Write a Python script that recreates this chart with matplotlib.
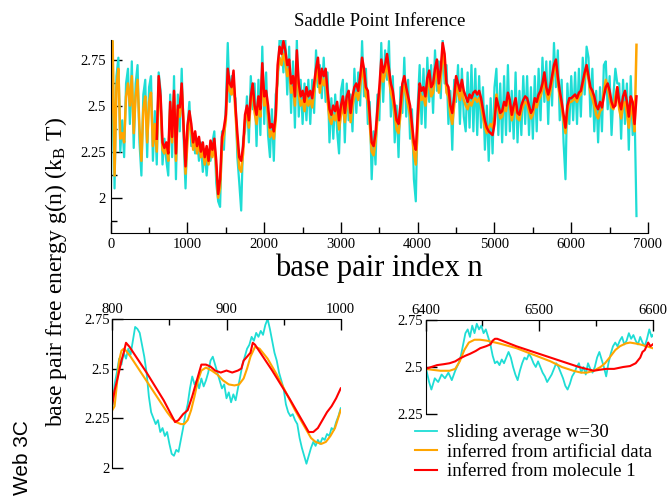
import matplotlib
matplotlib.use('Agg')
import matplotlib.pyplot as plt
import numpy as np
from matplotlib.ticker import MultipleLocator, FuncFormatter

plt.rcParams['font.family'] = ['Liberation Serif', 'DejaVu Serif']
plt.rcParams['mathtext.fontset'] = 'stix'

# ---------------- data: full sequence (sampled every 25 bp) ----------------
top_step = 25
cyan_start = 0
cyan_top = [
    1.93, 2.85, 2.05, 2.66, 2.76, 2.25, 2.42, 2.22, 2.62, 2.70, 2.40, 2.74, 2.27, 2.62, 2.72, 2.30, 2.12, 2.56, 2.64, 2.22, 2.60, 2.66, 2.20, 2.47,
    2.18, 2.68, 2.58, 2.18, 2.32, 2.20, 2.12, 2.56, 2.22, 2.66, 2.10, 2.56, 2.36, 2.70, 2.32, 2.05, 2.38,
    2.52, 2.28, 2.34, 2.24, 2.32, 2.20, 2.30, 2.14, 2.26, 2.12, 2.26, 2.20, 2.30, 2.36, 2.08, 1.98,
    1.95, 2.36, 2.26, 2.50, 2.84, 2.52, 2.66, 2.56, 2.54, 2.22, 2.08, 1.93, 2.32, 2.36, 2.55, 2.30,
    2.66, 2.48, 2.62, 2.28, 2.64, 2.34, 2.82, 2.40, 2.68, 2.34, 2.22, 2.48, 2.20, 2.56, 2.62, 2.86,
    2.86, 2.68, 2.86, 2.56, 2.82, 2.46, 2.74, 2.38, 2.86, 2.44, 2.64, 2.40, 2.62, 2.42, 2.64, 2.40,
    2.64, 2.46, 2.80, 2.60, 2.72, 2.54, 2.76, 2.52, 2.68, 2.30, 2.54, 2.32, 2.56, 2.36, 2.24, 2.58,
    2.64, 2.30, 2.62, 2.42, 2.56, 2.36, 2.70, 2.46, 2.68, 2.50, 2.85, 2.55, 2.70, 2.40, 2.52, 2.10,
    2.36, 2.18, 2.56, 2.42, 2.84, 2.52, 2.80, 2.64, 2.85, 2.44, 2.66, 2.30, 2.50, 2.22, 2.60, 2.46,
    2.76, 2.44, 2.64, 2.32, 2.48, 2.10, 1.98, 2.50, 2.72, 2.40, 2.70, 2.38, 2.76, 2.52, 2.72, 2.46,
    2.80, 2.58, 2.74, 2.54, 2.86, 2.62, 2.72, 2.40, 2.58, 2.26, 2.64, 2.52, 2.72, 2.40, 2.70, 2.44,
    2.36, 2.68, 2.38, 2.72, 2.36, 2.70, 2.34, 2.66, 2.38, 2.60, 2.26, 2.50, 2.20, 2.54, 2.24, 2.60,
    2.70, 2.34, 2.62, 2.30, 2.66, 2.34, 2.72, 2.36, 2.58, 2.32, 2.68, 2.30, 2.58, 2.34, 2.66, 2.40,
    2.66, 2.34, 2.60, 2.32, 2.66, 2.36, 2.70, 2.42, 2.76, 2.52, 2.74, 2.40, 2.74, 2.50, 2.84, 2.60,
    2.80, 2.42, 2.64, 2.30, 2.10, 2.62, 2.40, 2.66, 2.42, 2.68, 2.40, 2.70, 2.44, 2.76, 2.56, 2.82,
    2.76, 2.44, 2.70, 2.36, 2.58, 2.30, 2.60, 2.36, 2.72, 2.74, 2.48, 2.66, 2.34, 2.56, 2.70, 2.62,
    2.62, 2.32, 2.64, 2.40, 2.62, 2.26, 2.66, 2.34, 2.48, 1.90,
]
orange_start = 0
orange_top = [
    2.38, 2.85, 2.12, 2.60, 2.70, 2.32, 2.35, 2.30, 2.55, 2.62, 2.50, 2.66, 2.35, 2.55, 2.64, 2.38, 2.20, 2.48, 2.55, 2.30, 2.52, 2.57, 2.28, 2.40,
    2.25, 2.60, 2.50, 2.26, 2.24, 2.28, 2.20, 2.48, 2.30, 2.56, 2.20, 2.48, 2.44, 2.60, 2.40, 2.13, 2.30,
    2.44, 2.36, 2.26, 2.32, 2.24, 2.30, 2.22, 2.26, 2.18, 2.24, 2.18, 2.28, 2.22, 2.28, 2.16, 2.00,
    2.05, 2.28, 2.34, 2.42, 2.66, 2.58, 2.56, 2.64, 2.46, 2.30, 2.16, 2.14, 2.24, 2.42, 2.46, 2.38,
    2.52, 2.58, 2.46, 2.40, 2.50, 2.44, 2.68, 2.50, 2.54, 2.45, 2.33, 2.36, 2.32, 2.42, 2.68, 2.76,
    2.72, 2.78, 2.74, 2.66, 2.70, 2.57, 2.60, 2.50, 2.74, 2.56, 2.50, 2.53, 2.47, 2.55, 2.50, 2.53,
    2.49, 2.57, 2.65, 2.70, 2.57, 2.65, 2.61, 2.65, 2.53, 2.43, 2.40, 2.45, 2.42, 2.47, 2.37, 2.45,
    2.50, 2.41, 2.50, 2.53, 2.41, 2.50, 2.55, 2.57, 2.53, 2.61, 2.70, 2.65, 2.55, 2.53, 2.40, 2.25,
    2.23, 2.30, 2.43, 2.55, 2.70, 2.63, 2.67, 2.73, 2.65, 2.57, 2.53, 2.45, 2.37, 2.35, 2.45, 2.57,
    2.61, 2.55, 2.50, 2.45, 2.35, 2.24, 2.18, 2.38, 2.58, 2.53, 2.55, 2.50, 2.60, 2.64, 2.55, 2.57,
    2.65, 2.70, 2.57, 2.65, 2.78, 2.72, 2.57, 2.55, 2.45, 2.40, 2.50, 2.61, 2.57, 2.53, 2.59, 2.53,
    2.50, 2.48, 2.52, 2.50, 2.53, 2.54, 2.52, 2.54, 2.50, 2.44, 2.38, 2.35, 2.38, 2.40, 2.38, 2.44,
    2.56, 2.48, 2.43, 2.44, 2.49, 2.47, 2.54, 2.50, 2.42, 2.47, 2.51, 2.43, 2.42, 2.47, 2.50, 2.52,
    2.51, 2.47, 2.43, 2.45, 2.51, 2.49, 2.53, 2.55, 2.59, 2.65, 2.57, 2.53, 2.57, 2.63, 2.69, 2.72,
    2.63, 2.55, 2.49, 2.42, 2.35, 2.47, 2.52, 2.52, 2.53, 2.54, 2.52, 2.55, 2.56, 2.61, 2.66, 2.70,
    2.64, 2.57, 2.54, 2.50, 2.45, 2.43, 2.47, 2.48, 2.58, 2.64, 2.60, 2.54, 2.49, 2.48, 2.55, 2.60,
    2.48, 2.43, 2.50, 2.52, 2.46, 2.38, 2.50, 2.45, 2.36, 2.83,
]
red_start = 600
red_top = [
    2.32, 2.66, 2.55, 2.30, 2.27, 2.30, 2.24, 2.52, 2.33, 2.58, 2.24, 2.50, 2.49, 2.62, 2.38, 2.17, 2.39,
    2.47, 2.40, 2.30, 2.36, 2.28, 2.33, 2.25, 2.30, 2.22, 2.28, 2.20, 2.31, 2.26, 2.32, 2.20, 2.02,
    2.10, 2.33, 2.38, 2.45, 2.70, 2.62, 2.60, 2.69, 2.50, 2.35, 2.22, 2.20, 2.28, 2.45, 2.50, 2.42,
    2.55, 2.62, 2.50, 2.45, 2.55, 2.48, 2.73, 2.55, 2.58, 2.50, 2.38, 2.40, 2.36, 2.45, 2.72, 2.82,
    2.78, 2.85, 2.80, 2.72, 2.75, 2.62, 2.66, 2.55, 2.80, 2.62, 2.55, 2.58, 2.52, 2.60, 2.55, 2.58,
    2.54, 2.62, 2.70, 2.76, 2.62, 2.70, 2.66, 2.70, 2.58, 2.48, 2.45, 2.50, 2.47, 2.52, 2.42, 2.50,
    2.55, 2.46, 2.55, 2.58, 2.46, 2.55, 2.60, 2.62, 2.58, 2.66, 2.76, 2.70, 2.60, 2.58, 2.45, 2.30,
    2.28, 2.35, 2.48, 2.60, 2.75, 2.68, 2.72, 2.78, 2.70, 2.62, 2.58, 2.50, 2.42, 2.40, 2.50, 2.62,
    2.66, 2.60, 2.55, 2.50, 2.40, 2.30, 2.26, 2.45, 2.62, 2.58, 2.60, 2.55, 2.65, 2.69, 2.60, 2.62,
    2.70, 2.75, 2.62, 2.70, 2.84, 2.78, 2.62, 2.60, 2.50, 2.46, 2.55, 2.66, 2.62, 2.58, 2.64, 2.58,
    2.55, 2.52, 2.56, 2.54, 2.57, 2.58, 2.56, 2.58, 2.54, 2.48, 2.42, 2.38, 2.36, 2.35, 2.34, 2.40,
    2.54, 2.50, 2.46, 2.47, 2.52, 2.50, 2.57, 2.53, 2.45, 2.50, 2.54, 2.46, 2.45, 2.50, 2.53, 2.55,
    2.54, 2.50, 2.46, 2.48, 2.54, 2.52, 2.56, 2.58, 2.62, 2.68, 2.60, 2.56, 2.60, 2.66, 2.72, 2.75,
    2.66, 2.58, 2.52, 2.45, 2.38, 2.50, 2.54, 2.54, 2.55, 2.56, 2.54, 2.57, 2.58, 2.63, 2.68, 2.72,
    2.66, 2.60, 2.58, 2.55, 2.50, 2.48, 2.52, 2.49, 2.55, 2.60, 2.62, 2.58, 2.52, 2.49, 2.50, 2.60,
    2.52, 2.48, 2.55, 2.58, 2.52, 2.44, 2.55, 2.52, 2.40, 2.55,
]

# ---------------- data: detail window 800-1000 ----------------
bl_cyan_n = [800, 802, 804, 806, 808, 810, 812, 814, 816, 818, 820, 822, 824, 826, 828, 830, 832, 834, 836, 838,
             840, 842, 844, 846, 848, 850, 852, 854, 856, 858, 860, 862, 864, 866, 868, 870, 872, 874, 876, 878,
             880, 882, 884, 886, 888, 890, 892, 894, 896, 898, 900, 902, 904, 906, 908, 910, 912, 914, 916, 918,
             920, 922, 924, 926, 928, 930, 932, 934, 936, 938, 940, 942, 944, 946, 948, 950, 952, 954, 956, 958,
             960, 962, 964, 966, 968, 970, 972, 974, 976, 978, 980, 982, 984, 986, 988, 990, 992, 994, 996, 998, 1000]
bl_cyan_g = [2.30, 2.42, 2.48, 2.55, 2.52, 2.58, 2.55, 2.60, 2.57, 2.64, 2.71, 2.70, 2.68, 2.62, 2.56, 2.48, 2.36, 2.28, 2.25, 2.22,
             2.24, 2.18, 2.20, 2.16, 2.18, 2.12, 2.07, 2.06, 2.09, 2.08, 2.14, 2.20, 2.27, 2.32, 2.40, 2.46, 2.42, 2.44, 2.40, 2.45,
             2.41, 2.44, 2.48, 2.54, 2.56, 2.52, 2.48, 2.44, 2.40, 2.42, 2.35, 2.38, 2.33, 2.37, 2.34, 2.40, 2.46, 2.52, 2.56, 2.60,
             2.62, 2.66, 2.64, 2.68, 2.66, 2.69, 2.67, 2.72, 2.75, 2.70, 2.64, 2.58, 2.54, 2.48, 2.44, 2.40, 2.32, 2.28, 2.26, 2.27,
             2.24, 2.22, 2.15, 2.10, 2.06, 2.02, 2.06, 2.10, 2.13, 2.11, 2.14, 2.12, 2.15, 2.14, 2.17, 2.16, 2.20, 2.19, 2.23, 2.26, 2.30]
bl_orange_n = [800, 802, 804, 806, 808, 810, 812, 816, 824, 832, 840, 848, 852, 856, 860, 863, 866, 869, 872, 875, 878, 882,
               887, 892, 897, 902, 907, 911, 915, 918, 921, 925, 929, 936, 944, 952, 960, 968, 974, 978, 983, 987, 991, 995, 1000]
bl_orange_g = [2.29, 2.31, 2.42, 2.54, 2.59, 2.60, 2.59, 2.56, 2.49, 2.42, 2.35, 2.28, 2.25, 2.23, 2.22, 2.22, 2.24, 2.29, 2.36, 2.44, 2.49, 2.505,
               2.49, 2.47, 2.44, 2.42, 2.415, 2.42, 2.45, 2.50, 2.56, 2.61, 2.60, 2.55, 2.47, 2.38, 2.29, 2.21, 2.15, 2.13, 2.12, 2.13, 2.16, 2.20, 2.29]
bl_red_n = [800, 802, 805, 808, 810, 812, 815, 830, 845, 855, 858, 862, 866, 870, 874, 878, 882, 886, 890, 895, 900,
            905, 910, 913, 915, 918, 921, 923, 925, 940, 955, 972, 976, 980, 984, 988, 992, 996, 1000]
bl_red_g = [2.32, 2.39, 2.46, 2.54, 2.58, 2.63, 2.61, 2.48, 2.34, 2.23, 2.24, 2.27, 2.29, 2.36, 2.44, 2.52, 2.52, 2.51, 2.49, 2.48, 2.49,
            2.48, 2.49, 2.50, 2.54, 2.56, 2.58, 2.63, 2.62, 2.49, 2.35, 2.18, 2.18, 2.20, 2.24, 2.28, 2.31, 2.35, 2.40]

# ---------------- data: detail window 6400-6600 ----------------
br_cyan_n = [6400, 6403, 6405, 6408, 6411, 6414, 6417, 6420, 6423, 6426, 6429, 6431, 6433, 6435, 6437, 6439, 6441, 6443, 6445, 6447,
             6449, 6451, 6453, 6455, 6457, 6459, 6461, 6463, 6465, 6467, 6469, 6471, 6473, 6475, 6477, 6479, 6481, 6483, 6485, 6487,
             6489, 6491, 6493, 6495, 6497, 6499, 6501, 6503, 6505, 6507, 6509, 6511, 6513, 6515, 6517, 6519, 6521, 6523, 6525, 6527,
             6529, 6531, 6533, 6535, 6537, 6539, 6541, 6543, 6545, 6547, 6549, 6551, 6553, 6555, 6557, 6559, 6561, 6563, 6565, 6567,
             6569, 6571, 6573, 6575, 6577, 6579, 6581, 6583, 6585, 6587, 6589, 6591, 6593, 6595, 6597, 6599, 6600]
br_cyan_g = [2.50, 2.42, 2.38, 2.44, 2.42, 2.46, 2.44, 2.47, 2.43, 2.48, 2.52, 2.56, 2.62, 2.68, 2.70, 2.66, 2.72, 2.68, 2.73, 2.70,
             2.72, 2.68, 2.70, 2.66, 2.62, 2.56, 2.52, 2.53, 2.51, 2.54, 2.52, 2.55, 2.58, 2.55, 2.50, 2.46, 2.43, 2.48, 2.52, 2.55,
             2.54, 2.57, 2.55, 2.52, 2.50, 2.53, 2.50, 2.47, 2.45, 2.42, 2.44, 2.46, 2.49, 2.52, 2.50, 2.47, 2.44, 2.40, 2.38, 2.41,
             2.45, 2.47, 2.50, 2.52, 2.47, 2.50, 2.46, 2.52, 2.49, 2.47, 2.50, 2.55, 2.58, 2.54, 2.50, 2.45, 2.52, 2.57, 2.61, 2.63,
             2.61, 2.64, 2.66, 2.62, 2.64, 2.68, 2.65, 2.67, 2.64, 2.62, 2.66, 2.63, 2.61, 2.65, 2.70, 2.66, 2.67]
br_orange_n = [6400, 6406, 6413, 6421, 6426, 6430, 6434, 6438, 6443, 6448, 6454, 6465, 6480, 6495, 6510, 6520, 6530, 6537, 6542,
               6548, 6554, 6558, 6562, 6567, 6571, 6576, 6580, 6585, 6589, 6595, 6600]
br_orange_g = [2.49, 2.485, 2.48, 2.48, 2.49, 2.53, 2.59, 2.63, 2.645, 2.645, 2.64, 2.625, 2.60, 2.565, 2.53, 2.50, 2.48, 2.47, 2.47,
               2.48, 2.50, 2.52, 2.55, 2.59, 2.61, 2.625, 2.63, 2.625, 2.62, 2.61, 2.60]
br_red_n = [6400, 6405, 6410, 6416, 6421, 6426, 6430, 6435, 6439, 6444, 6448, 6453, 6457, 6459, 6461, 6463, 6480, 6500, 6520,
            6535, 6548, 6553, 6559, 6566, 6574, 6580, 6585, 6589, 6591, 6593, 6596, 6598, 6600]
br_red_g = [2.49, 2.50, 2.51, 2.515, 2.52, 2.53, 2.545, 2.56, 2.57, 2.585, 2.60, 2.61, 2.62, 2.64, 2.65, 2.65, 2.61, 2.57, 2.53,
            2.50, 2.48, 2.485, 2.49, 2.49, 2.50, 2.505, 2.52, 2.55, 2.58, 2.59, 2.63, 2.61, 2.62]

legend_labels = ['sliding average w=30', 'inferred from artificial data', 'inferred from molecule 1']
c_cyan, c_orange, c_red = '#1EDDD5', '#FFA500', '#FF0000'

# ---------------- figure ----------------
W, H = 669, 497
fig = plt.figure(figsize=(W / 100, H / 100), dpi=100)


def fx(px):
    return px / W


def fy(py):
    return 1 - py / H


fmt = FuncFormatter(lambda v, p: f'{v:g}')

# top panel
ax = fig.add_axes([fx(110.7), fy(233), fx(648) - fx(110.7), fy(40.2) - fy(233)])
n_c = cyan_start + top_step * np.arange(len(cyan_top))
n_o = orange_start + top_step * np.arange(len(orange_top))
n_r = red_start + top_step * np.arange(len(red_top))
ax.plot(n_c, cyan_top, color=c_cyan, lw=1.6)
ax.plot(n_o, orange_top, color=c_orange, lw=1.8)
ax.plot(n_r, red_top, color=c_red, lw=1.8)
ax.set_xlim(0, 7000)
ax.set_ylim(1.808, 2.855)
ax.spines['top'].set_visible(False)
ax.spines['right'].set_visible(False)
ax.xaxis.set_major_locator(MultipleLocator(1000))
ax.xaxis.set_minor_locator(MultipleLocator(500))
ax.yaxis.set_major_locator(MultipleLocator(0.25))
ax.yaxis.set_minor_locator(MultipleLocator(0.125))
ax.yaxis.set_major_formatter(fmt)
ax.tick_params(which='both', direction='in', labelsize=10.5, width=1.0)
ax.tick_params(which='major', length=8)
ax.tick_params(which='minor', length=4)
ax.set_xlabel('base pair index n', fontsize=22, labelpad=2)
ax.set_title('Saddle Point Inference', fontsize=13.5, pad=10)


def detail_axes(rect, xlim, ylim, cn, cg, on, og, rn, rg):
    a = fig.add_axes(rect)
    a.plot(cn, cg, color=c_cyan, lw=1.3)
    a.plot(on, og, color=c_orange, lw=1.5)
    a.plot(rn, rg, color=c_red, lw=1.5)
    a.set_xlim(*xlim)
    a.set_ylim(*ylim)
    a.spines['bottom'].set_visible(False)
    a.spines['right'].set_visible(False)
    a.xaxis.tick_top()
    a.xaxis.set_major_locator(MultipleLocator(100))
    a.xaxis.set_minor_locator(MultipleLocator(50))
    a.yaxis.set_major_locator(MultipleLocator(0.25))
    a.yaxis.set_major_formatter(fmt)
    a.tick_params(which='both', direction='in', labelsize=10.5, width=1.0, pad=2)
    a.tick_params(which='major', length=8)
    a.tick_params(which='minor', length=4)
    return a


axl = detail_axes([fx(112.3), fy(467.7), fx(340.7) - fx(112.3), fy(319) - fy(467.7)],
                  (800, 1000), (2, 2.75), bl_cyan_n, bl_cyan_g, bl_orange_n, bl_orange_g, bl_red_n, bl_red_g)
axr = detail_axes([fx(425.7), fy(414), fx(652.7) - fx(425.7), fy(320) - fy(414)],
                  (6400, 6600), (2.25, 2.75), br_cyan_n, br_cyan_g, br_orange_n, br_orange_g, br_red_n, br_red_g)

handles = axr.get_lines()
fig.legend(handles, legend_labels, loc='upper left', bbox_to_anchor=(fx(415), fy(424)),
           frameon=False, fontsize=13.5, handlelength=1.15, handletextpad=0.55,
           labelspacing=0.13, borderpad=0, borderaxespad=0)

fig.text(fx(56), fy(272), r'base pair free energy g(n) (k$_\mathregular{B}$ T)', rotation=90,
         ha='center', va='center', fontsize=17)
fig.text(fx(22), fy(458), 'Web 3C', rotation=90, ha='center', va='center', fontsize=15,
         family=['Liberation Sans', 'DejaVu Sans'])

fig.savefig('out.png', dpi=100)
